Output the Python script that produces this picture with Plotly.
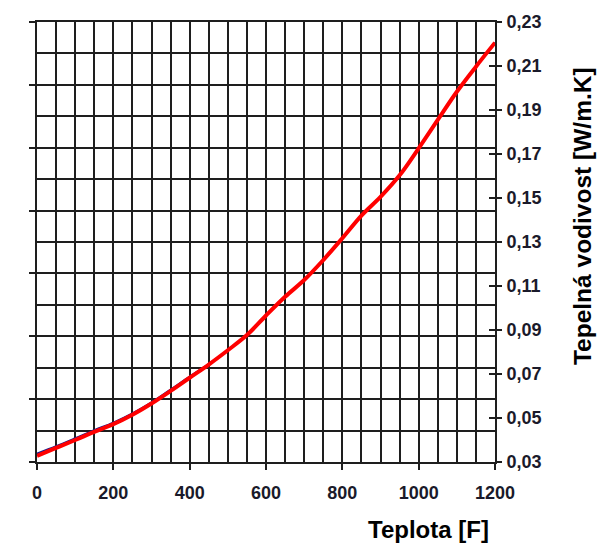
import plotly.graph_objects as go

# Data
temp_f = [0, 50, 100, 150, 200, 250, 300, 350, 400, 450, 500, 550, 600,
          650, 700, 750, 800, 850, 900, 950, 1000, 1050, 1100, 1150, 1200]
conductivity_red = [0.0328, 0.0364, 0.0400, 0.0437, 0.0472, 0.0515, 0.0566, 0.0623,
                    0.0683, 0.0743, 0.0808, 0.0877, 0.0966, 0.1051, 0.1127, 0.1218,
                    0.1317, 0.1420, 0.1505, 0.1603, 0.1726, 0.1855, 0.1983, 0.2097,
                    0.2206]
conductivity_blue = [0.0338, 0.0372, 0.0408, 0.0445, 0.0479, 0.0521, 0.0571, 0.0629,
                     0.0688, 0.0745, 0.0808, 0.0877, 0.0966, 0.1051, 0.1127, 0.1218,
                     0.1317, 0.1420, 0.1505, 0.1603, 0.1726, 0.1855, 0.1983, 0.2097,
                     0.2206]
x_ticks = [0, 200, 400, 600, 800, 1000, 1200]
y_ticks = [0.03, 0.05, 0.07, 0.09, 0.11, 0.13, 0.15, 0.17, 0.19, 0.21, 0.23]
y_tick_text = ["0,03", "0,05", "0,07", "0,09", "0,11", "0,13", "0,15", "0,17",
               "0,19", "0,21", "0,23"]
x_title = "Teplota [F]"
y_title = "Tepelná vodivost [W/m.K]"

Y0, Y1 = 0.03, 0.23
grid_step = (Y1 - Y0) / 14
left_ticks = [Y0 + i * 2 * grid_step for i in range(8)]

GRID = "#1e1e1e"
FONT = "Arial, Liberation Sans, sans-serif"

fig = go.Figure()
fig.add_trace(go.Scatter(x=temp_f, y=conductivity_blue, mode="lines",
                         line=dict(color="#1a1a8c", width=2, shape="spline", smoothing=1),
                         hoverinfo="skip", showlegend=False))
fig.add_trace(go.Scatter(x=temp_f, y=conductivity_red, mode="lines",
                         line=dict(color="#ff0000", width=4, shape="spline", smoothing=1),
                         showlegend=False))
# invisible traces to activate the right-side axes
fig.add_trace(go.Scatter(x=[0], y=[Y0], yaxis="y2", mode="markers",
                         marker=dict(opacity=0), hoverinfo="skip", showlegend=False))
fig.add_trace(go.Scatter(x=[0], y=[Y0], yaxis="y3", mode="markers",
                         marker=dict(opacity=0), hoverinfo="skip", showlegend=False))

fig.update_layout(
    width=615, height=558,
    margin=dict(l=37, r=120, t=22, b=96),
    paper_bgcolor="white", plot_bgcolor="white",
    font=dict(family=FONT, color="#111111"),
    xaxis=dict(
        range=[0, 1200], tickvals=x_ticks, ticks="outside", ticklen=6,
        tickwidth=1.5, tickcolor=GRID,
        showgrid=True, gridcolor=GRID, gridwidth=1.5,
        minor=dict(dtick=50, tick0=0, showgrid=True, gridcolor=GRID, gridwidth=1.5),
        showline=True, linecolor=GRID, linewidth=1.5, mirror=True,
        zeroline=False, ticklabelstandoff=8,
        tickfont=dict(size=18, family=FONT, weight="bold", color="#1a1a2a"),
    ),
    yaxis=dict(
        range=[Y0, Y1], tickvals=left_ticks, ticks="outside", ticklen=6,
        tickwidth=1.5, tickcolor=GRID, showticklabels=False,
        showgrid=True, gridcolor=GRID, gridwidth=1.5,
        minor=dict(dtick=grid_step, tick0=Y0, showgrid=True, gridcolor=GRID,
                   gridwidth=1.5),
        showline=True, linecolor=GRID, linewidth=1.5, mirror=True,
        zeroline=False,
    ),
    yaxis2=dict(
        range=[Y0, Y1], overlaying="y", side="right",
        tickvals=y_ticks, ticktext=y_tick_text, ticks="outside", ticklen=6,
        tickwidth=1.5, tickcolor=GRID, showgrid=False, zeroline=False,
        ticklabelstandoff=1,
        tickfont=dict(size=18, family=FONT, weight="bold", color="#1a1a2a"),
    ),
    yaxis3=dict(
        range=[Y0, Y1], overlaying="y", side="right",
        tickvals=y_ticks, ticks="inside", ticklen=6, tickwidth=1.5,
        tickcolor=GRID, showticklabels=False, showgrid=False, zeroline=False,
    ),
    annotations=[
        dict(text=x_title, xref="paper", yref="paper", x=0.854, y=-0.1545,
             xanchor="center", yanchor="middle", showarrow=False,
             font=dict(size=24, family=FONT, weight="bold", color="#000000")),
        dict(text=y_title, xref="paper", yref="paper", x=1.19, y=0.559,
             xanchor="center", yanchor="middle", showarrow=False, textangle=-90,
             font=dict(size=24.5, family=FONT, weight="bold", color="#000000")),
    ],
)

fig.write_html("out.html")
